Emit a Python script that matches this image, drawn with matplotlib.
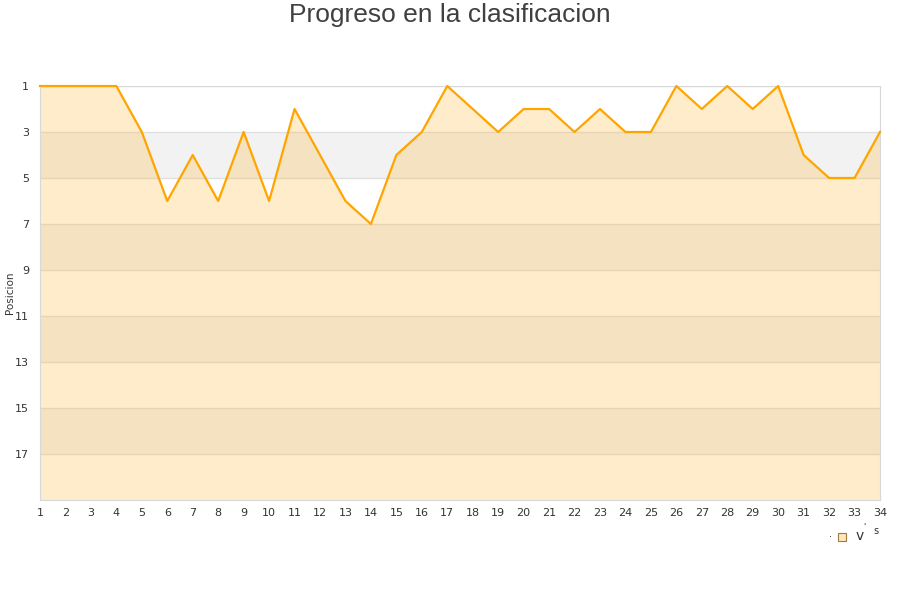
import numpy as np
import matplotlib.pyplot as plt
from matplotlib.patches import Rectangle

jornadas = list(range(1, 35))
posicion = [1, 1, 1, 1, 3, 6, 4, 6, 3, 6, 2, 4, 6, 7, 4, 3, 1, 2, 3, 2,
            2, 3, 2, 3, 3, 1, 2, 1, 2, 1, 4, 5, 5, 3]
yticks = list(range(1, 19, 2))

fig = plt.figure(figsize=(9, 6), dpi=100)
ax = fig.add_axes([40/900, 1-500/600, 840/900, 414/600])

# bandas de fondo
for b in range(3, 19, 4):
    ax.axhspan(b, b+2, color="#f2f2f2", zorder=0, lw=0)
for y in yticks[1:]:
    ax.axhline(y, color="#e0e0e0", lw=1, zorder=1)
ax.axhline(1, color="#d8d8d8", lw=1, zorder=1)

ax.fill_between(jornadas, posicion, 19, color=(1.0, 0.69, 0.13), alpha=0.23, lw=0, zorder=2)
ax.plot(jornadas, posicion, color="#ffa500", lw=1.6, zorder=3, clip_on=False)

ax.set_xlim(1, 34)
ax.set_ylim(19, 1)
ax.set_xticks(jornadas)
ax.set_yticks(yticks)
ax.tick_params(length=0, labelsize=8, colors="#333333")
ax.tick_params(axis="x", pad=6)
ax.tick_params(axis="y", pad=8)
for s in ["left", "bottom", "right"]:
    ax.spines[s].set_color("#d8d8d8")
ax.spines["top"].set_visible(False)
ax.set_ylabel("Posicion", fontsize=7.5, color="#333333", labelpad=0)

fig.text(0.5, 0.995, "Progreso en la clasificacion", ha="center", va="top",
         fontsize=19, color="#404040", family="Liberation Sans")

# leyenda
fig.text(830/900, 1-537/600, "·", ha="center", va="center", fontsize=7, color="#333333")
fig.patches.append(Rectangle((838/900, 1-541/600), 8/900, 8/600, transform=fig.transFigure,
                             facecolor="#ffe7bd", edgecolor="#a07840", lw=0.8))
fig.text(860/900, 1-536/600, "v", ha="center", va="center", fontsize=10, color="#333333")
fig.text(864/900, 1-527/600, "'", ha="center", va="center", fontsize=6, color="#333333")
fig.text(876/900, 1-531/600, "s", ha="center", va="center", fontsize=7, color="#333333")

fig.savefig("out.png", dpi=100)
